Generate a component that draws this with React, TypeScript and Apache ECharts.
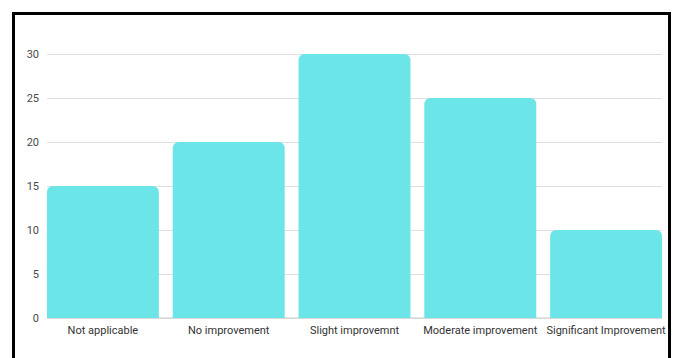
import React, { useEffect, useRef } from "react";
import * as echarts from "echarts";

const categories = [
  "Not applicable",
  "No improvement",
  "Slight improvemnt",
  "Moderate improvement",
  "Significant Improvement",
];
const counts = [15, 20, 30, 25, 10];
const yMin = 0;
const yMax = 30;
const yStep = 5;

export default function App() {
  const ref = useRef<HTMLDivElement>(null);

  useEffect(() => {
    if (!ref.current) return;
    const chart = echarts.init(ref.current, undefined, { renderer: "svg" });
    const font = "Roboto, 'Noto Sans', sans-serif";
    chart.setOption({
      animation: false,
      backgroundColor: "transparent",
      grid: [
        // gridlines and y labels
        { left: 47, right: 17, top: 54, bottom: 40 },
        // bars fill the plot edge to edge
        { left: 40, right: 10, top: 54, bottom: 40 },
      ],
      xAxis: [
        {
          gridIndex: 0,
          type: "value",
          min: 0,
          max: 1,
          axisLabel: { show: false },
          axisTick: { show: false },
          splitLine: { show: false },
          axisLine: { show: false },
        },
        {
          gridIndex: 1,
          type: "category",
          data: categories,
          axisTick: { show: false },
          axisLine: { show: false },
          axisLabel: {
            color: "#333",
            fontSize: 11,
            fontFamily: font,
            margin: 7,
            interval: 0,
          },
        },
      ],
      yAxis: [
        {
          gridIndex: 0,
          type: "value",
          min: yMin,
          max: yMax,
          interval: yStep,
          axisLine: { show: false },
          axisTick: { show: false },
          axisLabel: { color: "#4a4a4a", fontSize: 11, fontFamily: font, margin: 8 },
          splitLine: { lineStyle: { color: "#dedede", width: 1 } },
        },
        {
          gridIndex: 1,
          type: "value",
          min: yMin,
          max: yMax,
          interval: yStep,
          show: false,
        },
      ],
      series: [
        {
          type: "line",
          xAxisIndex: 0,
          yAxisIndex: 0,
          data: [
            [0, 0],
            [1, 0],
          ],
          symbol: "none",
          lineStyle: { color: "#c8c8c8", width: 1 },
          silent: true,
          z: 1,
        },
        {
          type: "bar",
          xAxisIndex: 1,
          yAxisIndex: 1,
          data: counts,
          barCategoryGap: "11%",
          itemStyle: { color: "#6be5e8", borderRadius: [6, 6, 0, 0] },
          z: 2,
        },
      ],
    });
    return () => chart.dispose();
  }, []);

  return (
    <div
      style={{
        position: "fixed",
        left: 0,
        top: 0,
        width: 679,
        height: 358,
        background: "#fff",
        overflow: "hidden",
      }}
    >
      <div
        style={{
          position: "absolute",
          left: 12,
          top: 12,
          width: 653,
          height: 360,
          border: "3px solid #000",
        }}
      />
      <div ref={ref} style={{ position: "absolute", left: 0, top: 0, width: 679, height: 358 }} />
    </div>
  );
}
